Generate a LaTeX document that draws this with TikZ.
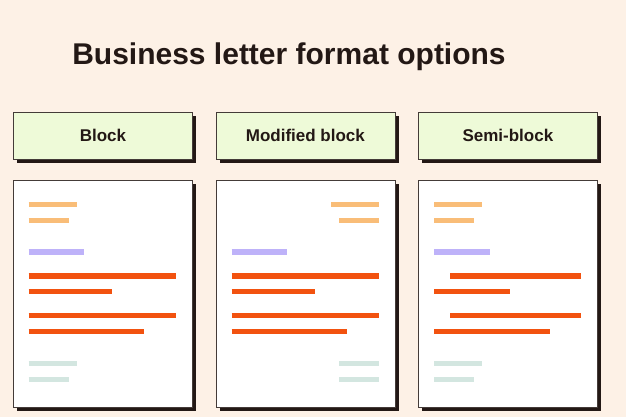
\documentclass[tikz,border=0pt]{standalone}
\usepackage{fontspec}
\setmainfont{Liberation Sans}
\begin{document}
\definecolor{bgcream}{HTML}{FDF1E6}
\definecolor{inkdark}{HTML}{231815}
\definecolor{headgreen}{HTML}{EEFAD8}
\definecolor{addrorange}{HTML}{F9BD78}
\definecolor{datepurple}{HTML}{BEB2F9}
\definecolor{bodyred}{HTML}{F2520F}
\definecolor{signteal}{HTML}{D3E6E0}
\begin{tikzpicture}[x=1pt,y=-1pt,
  card/.style={draw=inkdark!85,line width=0.8pt,inner sep=0pt,
    minimum width=179pt,anchor=north west},
  header/.style={card,fill=headgreen,minimum height=47pt,
    font=\fontsize{17}{20}\selectfont\bfseries,text=inkdark},
  page/.style={card,fill=white,minimum height=227pt},
  shadow/.style={fill=inkdark,draw=none},
  bar/.style={line width=5.5pt},
]
\useasboundingbox[fill=bgcream] (0,0) rectangle (626,417);

\node[font=\fontsize{30}{36}\selectfont\bfseries,text=inkdark,anchor=base,inner sep=0pt] (title) at (289,64.5) {Business letter format options};

% drop shadows behind headers and pages
\foreach \x in {13,215.5,418}{
  \fill[shadow] (\x+4,116) rectangle (\x+183,163);
  \fill[shadow] (\x+4,184) rectangle (\x+183,411);
}

% column headers
\node[header] (hblock) at (13,112) {Block};
\node[header] (hmod) at (215.5,112) {Modified block};
\node[header] (hsemi) at (418,112) {Semi-block};

% letter pages
\node[page] (pblock) at (13,180) {};
\node[page] (pmod) at (215.5,180) {};
\node[page] (psemi) at (418,180) {};

% Block: everything flush left
\begin{scope}[shift={(13,180)}]
  \draw[bar,addrorange] (15.7,24.3) -- ++(48,0);
  \draw[bar,addrorange] (15.7,40.3) -- ++(40,0);
  \draw[bar,datepurple] (15.7,72) -- ++(55.7,0);
  \draw[bar,bodyred] (15.7,96) -- ++(147.3,0);
  \draw[bar,bodyred] (15.7,111.7) -- ++(83.6,0);
  \draw[bar,bodyred] (15.7,135.7) -- ++(147.3,0);
  \draw[bar,bodyred] (15.7,151.7) -- ++(115.3,0);
  \draw[bar,signteal] (15.7,183.3) -- ++(48,0);
  \draw[bar,signteal] (15.7,199.3) -- ++(40,0);
\end{scope}

% Modified block: address and signature to the right
\begin{scope}[shift={(215.5,180)}]
  \draw[bar,addrorange] (163.2,24.3) -- ++(-48,0);
  \draw[bar,addrorange] (163.2,40.3) -- ++(-40,0);
  \draw[bar,datepurple] (16.2,72) -- ++(55.6,0);
  \draw[bar,bodyred] (16.2,96) -- ++(147,0);
  \draw[bar,bodyred] (16.2,111.7) -- ++(83.3,0);
  \draw[bar,bodyred] (16.2,135.7) -- ++(147,0);
  \draw[bar,bodyred] (16.2,151.7) -- ++(115,0);
  \draw[bar,signteal] (163.2,183.3) -- ++(-40,0);
  \draw[bar,signteal] (163.2,199.3) -- ++(-40,0);
\end{scope}

% Semi-block: indented paragraph openings
\begin{scope}[shift={(418,180)}]
  \draw[bar,addrorange] (16,24.3) -- ++(48,0);
  \draw[bar,addrorange] (16,40.3) -- ++(40,0);
  \draw[bar,datepurple] (16,72) -- ++(56,0);
  \draw[bar,bodyred] (32,96) -- ++(131.3,0);
  \draw[bar,bodyred] (16,111.7) -- ++(76,0);
  \draw[bar,bodyred] (32,135.7) -- ++(131.3,0);
  \draw[bar,bodyred] (16,151.7) -- ++(115.7,0);
  \draw[bar,signteal] (16,183.3) -- ++(48,0);
  \draw[bar,signteal] (16,199.3) -- ++(40,0);
\end{scope}
\end{tikzpicture}
\end{document}
